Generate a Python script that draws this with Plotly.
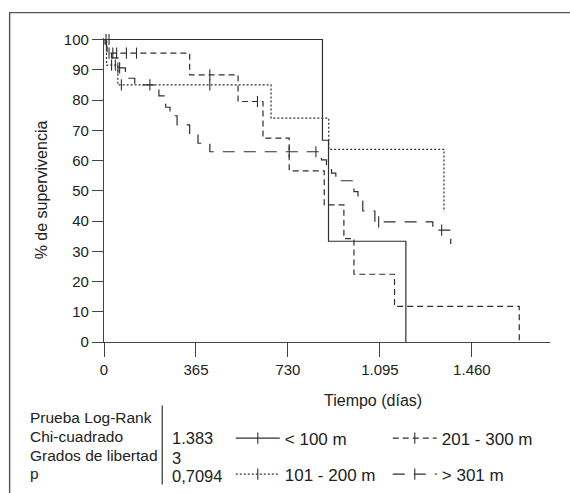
import plotly.graph_objects as go

# ---------------- data ----------------
# < 100 m  (solid)
lt100_t = [0, 867, 891, 1198]
lt100_s = [100, 66.7, 33.3, 0]
lt100_ct = [8, 20]
lt100_cs = [100, 100]

# 101 - 200 m  (dotted)
m101_t = [0, 10, 55, 663, 892, 1349]
m101_s = [100, 91.5, 85.0, 74.0, 63.7, 43.1]
m101_ct = [30, 45, 69, 420]
m101_cs = [91.5, 91.5, 85.0, 85.0]

# 201 - 300 m  (dashed)
m201_t = [0, 4, 12, 340, 532, 631, 735, 874, 952, 992, 1153, 1648]
m201_s = [100, 97.7, 95.5, 88.3, 79.5, 67.4, 56.6, 45.3, 34.2, 22.4, 11.8, 0]
m201_ct = [20, 35, 50, 89, 129, 420, 609]
m201_cs = [95.5, 95.5, 95.5, 95.5, 95.5, 88.3, 79.5]

# > 301 m  (long dash)
m301_t = [0, 10, 30, 60, 85, 122, 218, 245, 262, 290, 340, 373, 420, 863, 883,
          903, 920, 992, 1008, 1027, 1075, 1305, 1376]
m301_s = [100, 97.0, 93.9, 90.6, 87.2, 85.0, 81.4, 77.6, 74.8, 71.8, 69.0, 65.7,
          62.9, 60.2, 58.4, 55.8, 53.3, 49.7, 46.6, 43.3, 39.7, 37.0, 32.4]
m301_ct = [55, 62, 182, 735, 841, 1090, 1340]
m301_cs = [90.6, 90.6, 85.0, 62.9, 62.9, 39.7, 37.0]

x_tickvals = [0, 365, 730, 1095, 1460]
x_ticktext = ["0", "365", "730", "1.095", "1.460"]
y_tickvals = [0, 10, 20, 30, 40, 50, 60, 70, 80, 90, 100]

table_labels = ["Prueba Log-Rank", "Chi-cuadrado", "Grados de libertad", "p"]
table_values = ["1.383", "3", "0,7094"]

# ---------------- styling ----------------
FONT = "Liberation Sans, Arial, Helvetica, sans-serif"
INK = "#2e2e2e"
TXT = "#222"
W, H = 570, 493
L, R, T, B = 104.3, 20, 38.3, 151.3
PW, PH = W - L - R, H - T - B


def px2x(px):
    return (px - L) / PW


def py2y(py):
    return (H - B - py) / PH


groups = [
    ("< 100 m", lt100_t, lt100_s, lt100_ct, lt100_cs, "solid", "legend"),
    ("201 - 300 m", m201_t, m201_s, m201_ct, m201_cs, "6px,4px", "legend"),
    ("101 - 200 m", m101_t, m101_s, m101_ct, m101_cs, "2px,2px", "legend2"),
    ("> 301 m", m301_t, m301_s, m301_ct, m301_cs, "12px,9px", "legend2"),
]

marker_style = dict(symbol="line-ns-open", size=8, color=INK, line=dict(color=INK, width=1.1))

fig = go.Figure()
for name, t, s, ct, cs, dash, lg in groups:
    fig.add_trace(go.Scatter(
        x=t, y=s, mode="lines", line=dict(color=INK, width=1.2, dash=dash, shape="hv"),
        showlegend=False, hoverinfo="skip"))
    fig.add_trace(go.Scatter(
        x=ct, y=cs, mode="markers", marker=marker_style,
        showlegend=False, hoverinfo="skip", cliponaxis=False))
    fig.add_trace(go.Scatter(
        x=[None], y=[None], mode="lines+markers", name=name, legend=lg,
        line=dict(color=INK, width=1.2, dash=dash), marker=marker_style))

axis_common = dict(showline=True, linecolor="#444", linewidth=1.3, ticks="outside",
                   tickcolor="#444", tickwidth=1.3, showgrid=False, zeroline=False,
                   tickfont=dict(family=FONT, size=15, color=TXT))

legend_common = dict(orientation="h", xanchor="left", yanchor="middle",
                     entrywidth=98, entrywidthmode="pixels",
                     font=dict(family=FONT, size=17, color=TXT),
                     bgcolor="rgba(0,0,0,0)", itemwidth=44)

fig.update_layout(
    width=W, height=H, margin=dict(l=L, r=R, t=T, b=B, autoexpand=False),
    paper_bgcolor="white", plot_bgcolor="white",
    xaxis=dict(range=[0, 1770], tickvals=x_tickvals, ticktext=x_ticktext, ticklen=14,
               **axis_common),
    yaxis=dict(range=[0, 100.5], tickvals=y_tickvals, ticklen=11,
               title=dict(text="% de supervivencia", font=dict(family=FONT, size=16, color=TXT),
                          standoff=12),
               **axis_common),
    legend=dict(x=px2x(231), y=py2y(438), **legend_common),
    legend2=dict(x=px2x(231), y=py2y(474), **legend_common),
    showlegend=True,
)

# outer frame
fig.add_shape(type="rect", xref="paper", yref="paper",
              x0=px2x(10), x1=px2x(590), y0=py2y(520), y1=py2y(13),
              line=dict(color="#555", width=1.4), fillcolor="rgba(0,0,0,0)")
# table divider
fig.add_shape(type="line", xref="paper", yref="paper",
              x0=px2x(162.5), x1=px2x(162.5), y0=py2y(405), y1=py2y(484),
              line=dict(color="#333", width=1.2))

lab_font = dict(family=FONT, size=15.5, color=TXT)
val_font = dict(family=FONT, size=16.5, color=TXT)
fig.add_annotation(text="Tiempo (días)", xref="paper", yref="paper",
                   x=px2x(373), y=py2y(400), showarrow=False,
                   font=dict(family=FONT, size=16, color=TXT),
                   xanchor="center", yanchor="middle")
label_y = [417, 436, 455, 473]
for txt, yy in zip(table_labels, label_y):
    fig.add_annotation(text=txt, xref="paper", yref="paper", x=px2x(28), y=py2y(yy),
                       showarrow=False, font=lab_font, xanchor="left", yanchor="middle")
value_y = [438, 457, 475]
for txt, yy in zip(table_values, value_y):
    fig.add_annotation(text=txt, xref="paper", yref="paper", x=px2x(170), y=py2y(yy),
                       showarrow=False, font=val_font, xanchor="left", yanchor="middle")

fig.write_html("out.html", config={"displayModeBar": False},
               post_script="document.body.style.margin='0px';document.body.style.overflow='hidden';")
